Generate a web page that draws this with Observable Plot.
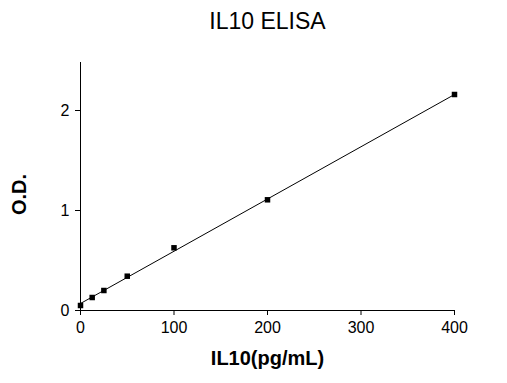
<!DOCTYPE html>
<html>
<head>
<meta charset="utf-8">
<script src="https://cdn.jsdelivr.net/npm/d3@7"></script>
<script src="https://cdn.jsdelivr.net/npm/@observablehq/plot@0.6"></script>
<style>
  html, body { margin: 0; padding: 0; background: #fff; }
  #chart { width: 507px; height: 383px; }
</style>
</head>
<body>
<div id="chart"></div>
<script>
const title = "IL10 ELISA";
const xLabel = "IL10(pg/mL)";
const yLabel = "O.D.";
const concentration = [0, 12.5, 25, 50, 100, 200, 400];
const od = [0.05, 0.13, 0.20, 0.343, 0.627, 1.107, 2.16];
const fitX = [0, 400];
const fitY = [0.07, 2.16];
const xTicks = [0, 100, 200, 300, 400];
const yTicks = [0, 1, 2];

const points = concentration.map((c, i) => ({x: c, y: od[i]}));
const fit = fitX.map((c, i) => ({x: c, y: fitY[i]}));

const font = "'Liberation Sans', Arial, sans-serif";

const chart = Plot.plot({
  width: 507,
  height: 383,
  marginLeft: 80,
  marginRight: 53,
  marginTop: 62,
  marginBottom: 73,
  style: {fontFamily: font, fontSize: "16px", color: "#000", background: "#fff"},
  x: {domain: [0, 400], label: null},
  y: {domain: [0, 2.48], label: null},
  marks: [
    Plot.axisX({ticks: xTicks, tickFormat: d => String(d), tickSize: 5, tickPadding: 6, label: null, fontSize: 16, stroke: "#000", strokeOpacity: 1}),
    Plot.axisY({ticks: yTicks, tickFormat: d => String(d), tickSize: 5, tickPadding: 6, label: null, fontSize: 16, stroke: "#000", strokeOpacity: 1}),
    Plot.ruleY([0], {stroke: "#000", strokeWidth: 1}),
    Plot.ruleX([0], {stroke: "#000", strokeWidth: 1}),
    Plot.line(fit, {x: "x", y: "y", stroke: "#000", strokeWidth: 1}),
    Plot.dot(points, {x: "x", y: "y", symbol: "square", r: 3.1, fill: "#000", stroke: "none"}),
    Plot.text([title], {frameAnchor: "top", dy: -41, text: d => d, fontSize: 23, fill: "#000", lineAnchor: "middle"}),
    Plot.text([xLabel], {frameAnchor: "bottom", dy: 48, text: d => d, fontSize: 20, fontWeight: "bold", fill: "#000", lineAnchor: "middle"}),
    Plot.text([yLabel], {frameAnchor: "left", dx: -61, dy: 8, text: d => d, fontSize: 20, fontWeight: "bold", fill: "#000", rotate: -90, textAnchor: "middle", lineAnchor: "middle"})
  ]
});
document.getElementById("chart").appendChild(chart);
</script>
</body>
</html>
